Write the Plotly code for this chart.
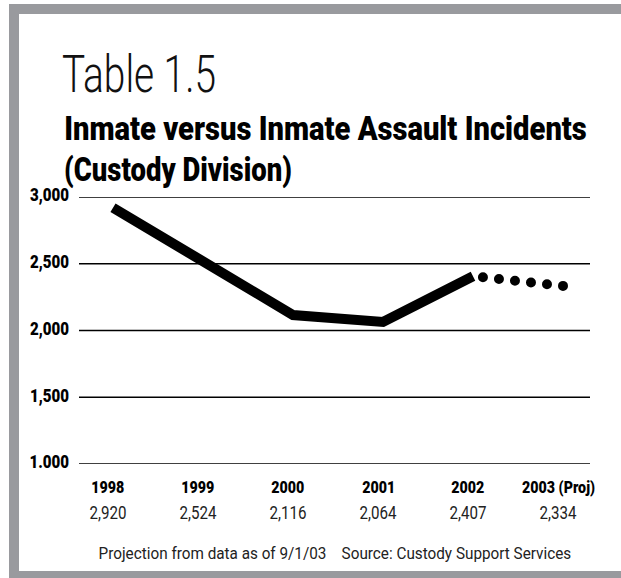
import json
import plotly.graph_objects as go

# ---- data ----
years = ["1998", "1999", "2000", "2001", "2002", "2003 (Proj)"]
incidents = [2920, 2524, 2116, 2064, 2407, 2334]
value_labels = ["2,920", "2,524", "2,116", "2,064", "2,407", "2,334"]
y_ticks = [1000, 1500, 2000, 2500, 3000]
y_tick_labels = ["1.000", "1,500", "2,000", "2,500", "3,000"]
n_actual = 5  # 1998-2002 are actual counts; 2003 is the projection

# ---- page geometry ----
W, H = 621, 578
ML, MR, MT, MB = 79, 31, 197, 114
PW, PH = W - ML - MR, H - MT - MB


def px(x):
    return (x - ML) / PW


def py(y):
    return (H - MB - y) / PH


FONT = "Roboto, Liberation Sans, sans-serif"
GRAY = "#999a9e"
SQUEEZE = 0.84  # horizontal condensing applied to the small labels

fig = go.Figure()

# actual counts: heavy solid line
fig.add_trace(go.Scatter(
    x=list(range(n_actual)), y=incidents[:n_actual], mode="lines",
    line=dict(color="black", width=10), hoverinfo="skip", showlegend=False,
))
# projection: dotted continuation from the last actual year
fig.add_trace(go.Scatter(
    x=list(range(n_actual - 1, len(years))), y=incidents[n_actual - 1:], mode="lines",
    line=dict(color="black", width=10, dash="0px,16px"), hoverinfo="skip", showlegend=False,
))

shapes = [
    # gray frame and white card
    dict(type="rect", xref="paper", yref="paper", x0=px(9), x1=px(660), y0=py(620), y1=py(4),
         fillcolor=GRAY, line=dict(width=0), layer="below"),
    dict(type="rect", xref="paper", yref="paper", x0=px(19), x1=px(660), y0=py(571), y1=py(14),
         fillcolor="white", line=dict(width=0), layer="below"),
]
# horizontal rules at each y tick
for v in y_ticks:
    shapes.append(dict(type="line", xref="paper", yref="y", x0=0, x1=1, y0=v, y1=v,
                       line=dict(color="black", width=1.3), layer="below"))

# headline texts, each fitted to a set width (px) by the page script below
fit_widths = {}
annotations = []


def add_text(text, x, y, xanchor, size, weight="normal", color="black", fit=None, xref="paper", xshift=0):
    if fit is not None:
        fit_widths[len(annotations)] = fit
    annotations.append(dict(text=text, xref=xref, yref="paper", x=x, y=y, xshift=xshift,
                            xanchor=xanchor, yanchor="middle", showarrow=False,
                            font=dict(family=FONT, size=size, color=color, weight=weight)))


add_text("Table 1.5", px(60), py(74), "left", 51, weight=300, color="#111", fit=154)
add_text("Inmate versus Inmate Assault Incidents", px(62), py(128), "left", 34, weight=900, fit=523)
add_text("(Custody Division)", px(62), py(169), "left", 34, weight=900, fit=228)
add_text("Projection from data as of 9/1/03\u00a0\u00a0\u00a0 Source: Custody Support Services",
         px(335), py(553), "center", 17, color="#222", fit=473)
for i, (yr, lab) in enumerate(zip(years, value_labels)):
    add_text(yr, i, py(487), "center", 17, weight=900, xref="x", xshift=-5)
    add_text(lab, i, py(512), "center", 18, color="#222", xref="x", xshift=-5)

fig.update_layout(
    width=W, height=H,
    margin=dict(l=ML, r=MR, t=MT, b=MB, pad=0),
    paper_bgcolor="white", plot_bgcolor="rgba(0,0,0,0)",
    showlegend=False,
    shapes=shapes, annotations=annotations,
    xaxis=dict(range=[-34 / 90, 5 + 27 / 90], showgrid=False, zeroline=False,
               showline=False, showticklabels=False, ticks="", fixedrange=True),
    yaxis=dict(range=[1000, 3000], tickvals=y_ticks, ticktext=y_tick_labels,
               showgrid=False, zeroline=False, showline=False, ticks="",
               ticklabelstandoff=9, ticklabelshift=-2,
               tickfont=dict(family=FONT, size=18, color="black", weight=900),
               fixedrange=True),
)

# Condensed typography: squeeze text horizontally around its anchor.
# The projection's zero-length dashes get round caps so they read as dots,
# spread evenly from just past the 2002 point to the 2003 point.
post = """
var gd = document.getElementById('{plot_id}');
var FIT = %s, SQ = %s;
function squeeze(el, s, anchor) {
  var bb = el.getBBox();
  var ax = anchor === 'left' ? bb.x : (anchor === 'right' ? bb.x + bb.width : bb.x + bb.width / 2);
  var t = el.getAttribute('transform') || '';
  el.setAttribute('transform', t + ' translate(' + ax + ',0) scale(' + s + ',1) translate(' + (-ax) + ',0)');
}
gd.querySelectorAll('.annotation').forEach(function(g) {
  var i = g.getAttribute('data-index');
  var a = gd._fullLayout.annotations[+i];
  var txt = g.querySelector('text.annotation-text');
  if (!txt) return;
  var s = SQ;
  if (FIT[i] !== undefined) { s = FIT[i] / txt.getBBox().width; }
  squeeze(txt, s, a.xanchor);
});
gd.querySelectorAll('.ytick text').forEach(function(t) { squeeze(t, SQ, 'right'); });
var traces = gd.querySelectorAll('.scatterlayer .trace');
if (traces.length > 1) {
  traces[1].querySelectorAll('path.js-line').forEach(function(p) {
    var L = p.getTotalLength(), start = 10, n = 5;
    var gap = (L - start) / n;
    p.style.strokeLinecap = 'round';
    p.style.strokeDasharray = '0 ' + gap;
    p.style.strokeDashoffset = (gap - start);
  });
}
""" % (json.dumps({str(k): v for k, v in fit_widths.items()}), SQUEEZE)

fig.write_html("out.html", config={"displayModeBar": False}, post_script=post)
